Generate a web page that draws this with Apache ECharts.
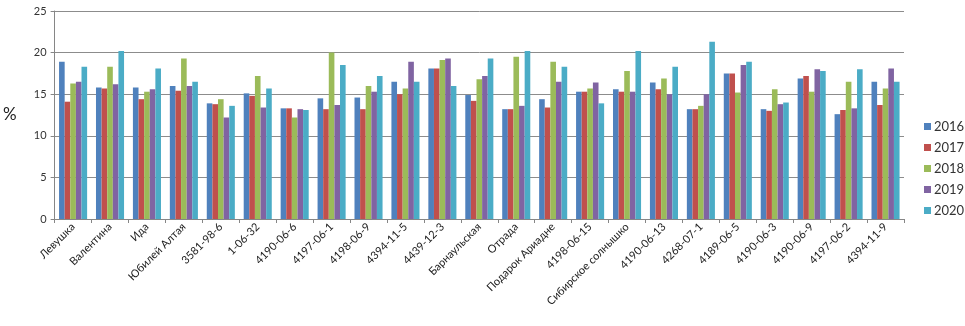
<!DOCTYPE html>
<html>
<head>
<meta charset="utf-8">
<script src="https://cdn.jsdelivr.net/npm/echarts@6/dist/echarts.min.js"></script>
<style>
  html, body { margin: 0; padding: 0; background: #fff; }
  #chart { width: 965px; height: 326px; }
</style>
</head>
<body>
<div id="chart"></div>
<script>
// сорта / линии
var categories = ['Левушка', 'Валентина', 'Ида', 'Юбилей Алтая', '3581-98-6', '1-06-32',
  '4190-06-6', '4197-06-1', '4198-06-9', '4394-11-5', '4439-12-3', 'Барнаульская',
  'Отрада', 'Подарок Ариадне', '4198-06-15', 'Сибирское солнышко', '4190-06-13',
  '4268-07-1', '4189-06-5', '4190-06-3', '4190-06-9', '4197-06-2', '4394-11-9']
var years = ['2016', '2017', '2018', '2019', '2020']
var y2016 = [18.9, 15.8, 15.8, 16.0, 13.9, 15.1, 13.3, 14.5, 14.6, 16.5, 18.1, 14.9, 13.2, 14.4, 15.3, 15.6, 16.4, 13.2, 17.5, 13.2, 16.9, 12.6, 16.5]
var y2017 = [14.1, 15.7, 14.4, 15.4, 13.8, 14.8, 13.3, 13.2, 13.2, 15.0, 18.1, 14.2, 13.2, 13.4, 15.3, 15.3, 15.6, 13.2, 17.5, 13.0, 17.2, 13.1, 13.7]
var y2018 = [16.3, 18.3, 15.3, 19.3, 14.4, 17.2, 12.2, 20.0, 16.0, 15.7, 19.1, 16.8, 19.5, 18.9, 15.7, 17.8, 16.9, 13.6, 15.2, 15.6, 15.3, 16.5, 15.7]
var y2019 = [16.5, 16.2, 15.6, 16.0, 12.2, 13.4, 13.2, 13.7, 15.3, 18.9, 19.3, 17.2, 13.6, 16.5, 16.4, 15.3, 15.0, 15.0, 18.5, 13.8, 18.0, 13.3, 18.1]
var y2020 = [18.3, 20.2, 18.1, 16.5, 13.6, 15.7, 13.1, 18.5, 17.2, 16.5, 16.0, 19.3, 20.2, 18.3, 13.9, 20.2, 18.3, 21.3, 18.9, 14.0, 17.8, 18.0, 16.5]
var yTicks = [0, 5, 10, 15, 20, 25]

var colors = ['#4F81BD', '#C0504D', '#9BBB59', '#8064A2', '#4BACC6']
var font = 'Lato, "Open Sans", sans-serif'

var chart = echarts.init(document.getElementById('chart'))
var allData = [y2016, y2017, y2018, y2019, y2020]

chart.setOption({
  animation: false,
  color: colors,
  grid: { left: 54, right: 61, top: 11, bottom: 107, containLabel: false },
  legend: {
    orient: 'vertical',
    left: 919,
    top: 115,
    itemWidth: 7,
    itemHeight: 7,
    itemGap: 8,
    icon: 'rect',
    textStyle: { fontFamily: font, fontSize: 13, color: '#333', padding: [0, 0, 0, -2] },
    data: years
  },
  xAxis: {
    type: 'category',
    data: categories,
    axisLine: { lineStyle: { color: '#868686' } },
    axisTick: { show: true, length: 4, lineStyle: { color: '#868686' } },
    axisLabel: {
      interval: 0,
      rotate: 45,
      fontFamily: font,
      fontSize: 11,
      color: '#222',
      margin: 6
    }
  },
  yAxis: {
    type: 'value',
    min: yTicks[0],
    max: yTicks[yTicks.length - 1],
    interval: 5,
    name: '%',
    nameLocation: 'middle',
    nameGap: 38,
    nameRotate: 0,
    nameTextStyle: { fontFamily: font, fontSize: 17, color: '#222' },
    axisLine: { show: true, lineStyle: { color: '#868686' } },
    axisTick: { show: true, length: 4, lineStyle: { color: '#868686' } },
    axisLabel: { fontFamily: font, fontSize: 11, color: '#333', margin: 8 },
    splitLine: { lineStyle: { color: '#8c8c8c', width: 1 } }
  },
  series: years.map(function (y, i) {
    return {
      name: y,
      type: 'bar',
      data: allData[i],
      barGap: '0%',
      barCategoryGap: '24%'
    }
  })
})
</script>
</body>
</html>
